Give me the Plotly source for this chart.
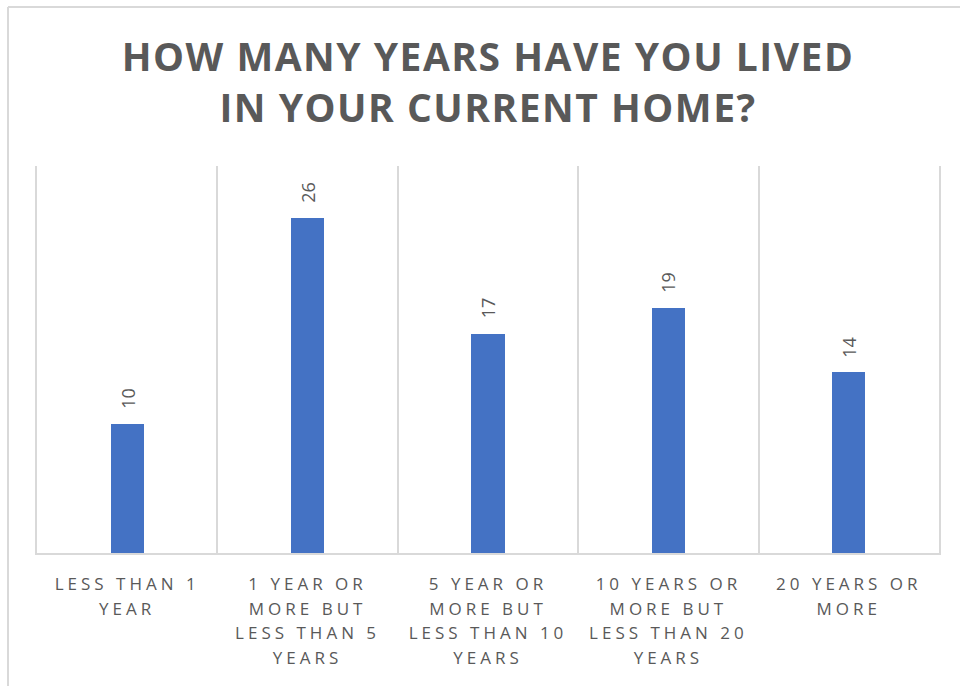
import plotly.graph_objects as go

# Survey responses: years lived in current home
categories = [
    "LESS THAN 1<br>YEAR",
    "1 YEAR OR<br>MORE BUT<br>LESS THAN 5<br>YEARS",
    "5 YEAR OR<br>MORE BUT<br>LESS THAN 10<br>YEARS",
    "10 YEARS OR<br>MORE BUT<br>LESS THAN 20<br>YEARS",
    "20 YEARS OR<br>MORE",
]
counts = [10, 26, 17, 19, 14]

title_text = "HOW MANY YEARS HAVE YOU LIVED<br>IN YOUR CURRENT HOME?"

TEXT_GREY = "#595959"
GRID_GREY = "#D9D9D9"
BAR_BLUE = "#4472C4"
FONT = "Open Sans"

W, H = 961, 687
M_L, M_R, M_T, M_B = 37, 22, 166, 134
PLOT_W = W - M_L - M_R
PLOT_H = H - M_T - M_B


def spaced(text, px, size=None):
    """Wrap each line of a label in a letter-spaced span."""
    style = f"letter-spacing:{px}px"
    if size:
        style += f";font-size:{size}px"
    return "<br>".join(
        f'<span style="{style}">{line}</span>' for line in text.split("<br>")
    )


fig = go.Figure()
fig.add_trace(
    go.Bar(
        x=categories,
        y=counts,
        width=0.185,
        marker=dict(color=BAR_BLUE, line=dict(width=0)),
        hoverinfo="skip",
    )
)

# Value labels above each bar, rotated
for cat, v in zip(categories, counts):
    fig.add_annotation(
        x=cat,
        y=v,
        text=str(v),
        textangle=-90,
        showarrow=False,
        xanchor="center",
        yanchor="bottom",
        yshift=13,
        font=dict(family=FONT, size=18, color=TEXT_GREY),
    )

# Outer chart frame: top and left edges, kept inside the page
frame_left = (8 - M_L) / PLOT_W
frame_right = (W - 1 - M_L) / PLOT_W
frame_top = (H - M_B - 7) / PLOT_H
frame_bottom = (-M_B + 1) / PLOT_H
fig.add_shape(
    type="line", xref="paper", yref="paper",
    x0=frame_left, x1=frame_right, y0=frame_top, y1=frame_top,
    line=dict(color=GRID_GREY, width=2), layer="below",
)
fig.add_shape(
    type="line", xref="paper", yref="paper",
    x0=frame_left, x1=frame_left, y0=frame_bottom, y1=frame_top,
    line=dict(color=GRID_GREY, width=2), layer="below",
)

fig.update_layout(
    width=W,
    height=H,
    margin=dict(l=M_L, r=M_R, t=M_T, b=M_B),
    paper_bgcolor="white",
    plot_bgcolor="white",
    showlegend=False,
    bargap=0,
    title=dict(
        text=spaced(title_text, 1.5),
        x=0.5,
        xref="paper",
        xanchor="center",
        y=1 - 71 / H,
        yref="container",
        yanchor="top",
        font=dict(family=FONT, size=39, color=TEXT_GREY, weight="bold"),
    ),
    xaxis=dict(
        type="category",
        tickmode="array",
        tickvals=categories,
        ticktext=[spaced(c, 4, 17) for c in categories],
        range=[-0.5, len(categories) - 0.5],
        tickson="boundaries",
        showgrid=True,
        gridcolor=GRID_GREY,
        gridwidth=2,
        showline=True,
        linecolor=GRID_GREY,
        linewidth=2,
        ticks="",
        ticklabelstandoff=12,
        tickfont=dict(family=FONT, size=19, color=TEXT_GREY),
        fixedrange=True,
    ),
    yaxis=dict(
        range=[0, 30],
        showgrid=False,
        zeroline=False,
        showticklabels=False,
        showline=True,
        mirror=True,
        linecolor=GRID_GREY,
        linewidth=2,
        ticks="",
        fixedrange=True,
    ),
)

fig.write_html("out.html", config={"displayModeBar": False})
